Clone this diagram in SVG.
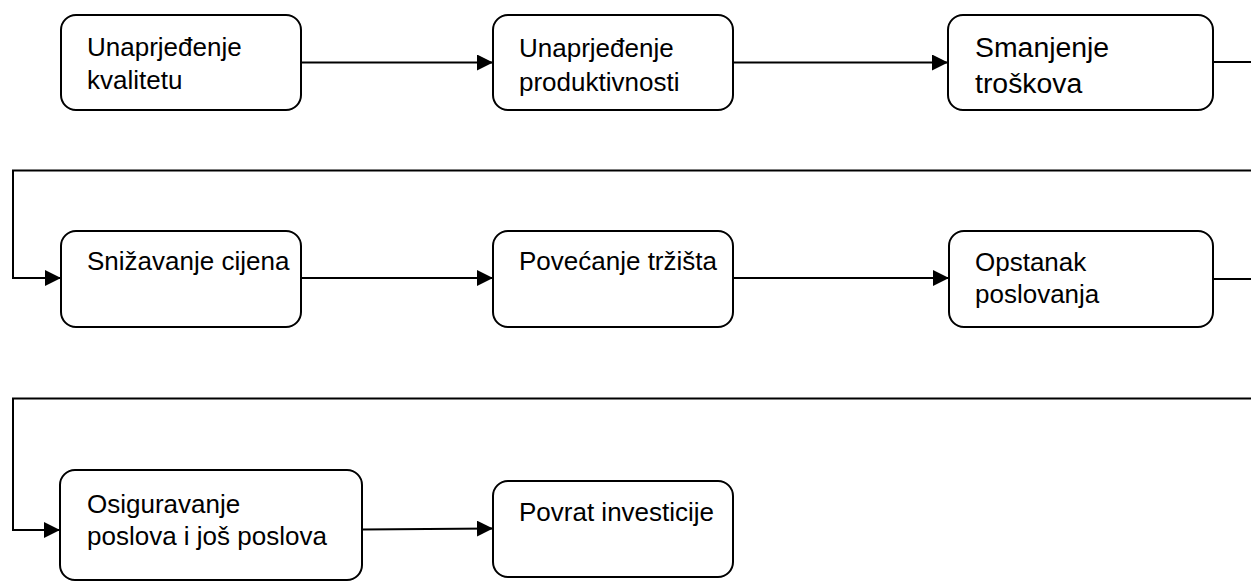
<svg xmlns="http://www.w3.org/2000/svg" width="1251" height="585" viewBox="0 0 1251 585">
<style>
.box{fill:#fff;stroke:#000;stroke-width:2}
.t{font-family:"Liberation Sans",Arial,sans-serif;font-size:26px;fill:#000}
.tl{font-family:"Liberation Sans",Arial,sans-serif;font-size:28.4px;fill:#000}
.c{fill:none;stroke:#000;stroke-width:2}
</style>
<defs>
<marker id="ah" markerUnits="userSpaceOnUse" markerWidth="16" markerHeight="16" viewBox="0 0 15 15" refX="15" refY="7.5" orient="auto">
<path d="M0,0 L15,7.5 L0,15 Z" fill="#000"/>
</marker>
</defs>
<rect width="1251" height="585" fill="#fff"/>
<g id="connectors">
<path class="c" d="M301,62.5 H493" marker-end="url(#ah)"/>
<path class="c" d="M733,62.5 H948" marker-end="url(#ah)"/>
<path class="c" d="M1213,62 H1251"/>
<path class="c" d="M1251,170.5 H13 V278 H61" marker-end="url(#ah)"/>
<path class="c" d="M301,278 H493" marker-end="url(#ah)"/>
<path class="c" d="M733,278 H949" marker-end="url(#ah)"/>
<path class="c" d="M1213,279 H1251"/>
<path class="c" d="M1251,398.5 H13 V530 H60" marker-end="url(#ah)"/>
<path class="c" d="M362,529.5 L493,528.5" marker-end="url(#ah)"/>
</g>
<g id="n1"><rect class="box" x="61" y="15" width="240" height="95" rx="15"/>
<text class="t" x="87" y="56">Unaprjeđenje</text><text class="t" x="87" y="89">kvalitetu</text></g>
<g id="n2"><rect class="box" x="493" y="15" width="240" height="95" rx="15"/>
<text class="t" x="519" y="56.5">Unaprjeđenje</text><text class="t" x="519" y="91">produktivnosti</text></g>
<g id="n3"><rect class="box" x="948" y="15" width="265" height="95" rx="15"/>
<text class="tl" x="975" y="57.3">Smanjenje</text><text class="tl" x="975" y="93.3">troškova</text></g>
<g id="n4"><rect class="box" x="61" y="231" width="240" height="96" rx="15"/>
<text class="t" x="87" y="270">Snižavanje cijena</text></g>
<g id="n5"><rect class="box" x="493" y="231" width="240" height="96" rx="15"/>
<text class="t" x="519" y="270">Povećanje tržišta</text></g>
<g id="n6"><rect class="box" x="949" y="231" width="264" height="96" rx="15"/>
<text class="t" x="975" y="271">Opstanak</text><text class="t" x="975" y="303">poslovanja</text></g>
<g id="n7"><rect class="box" x="60" y="470" width="302" height="110" rx="15"/>
<text class="t" x="87" y="513">Osiguravanje</text><text class="t" x="87" y="545">poslova i još poslova</text></g>
<g id="n8"><rect class="box" x="493" y="481" width="240" height="96" rx="15"/>
<text class="t" x="519" y="521">Povrat investicije</text></g>
</svg>
